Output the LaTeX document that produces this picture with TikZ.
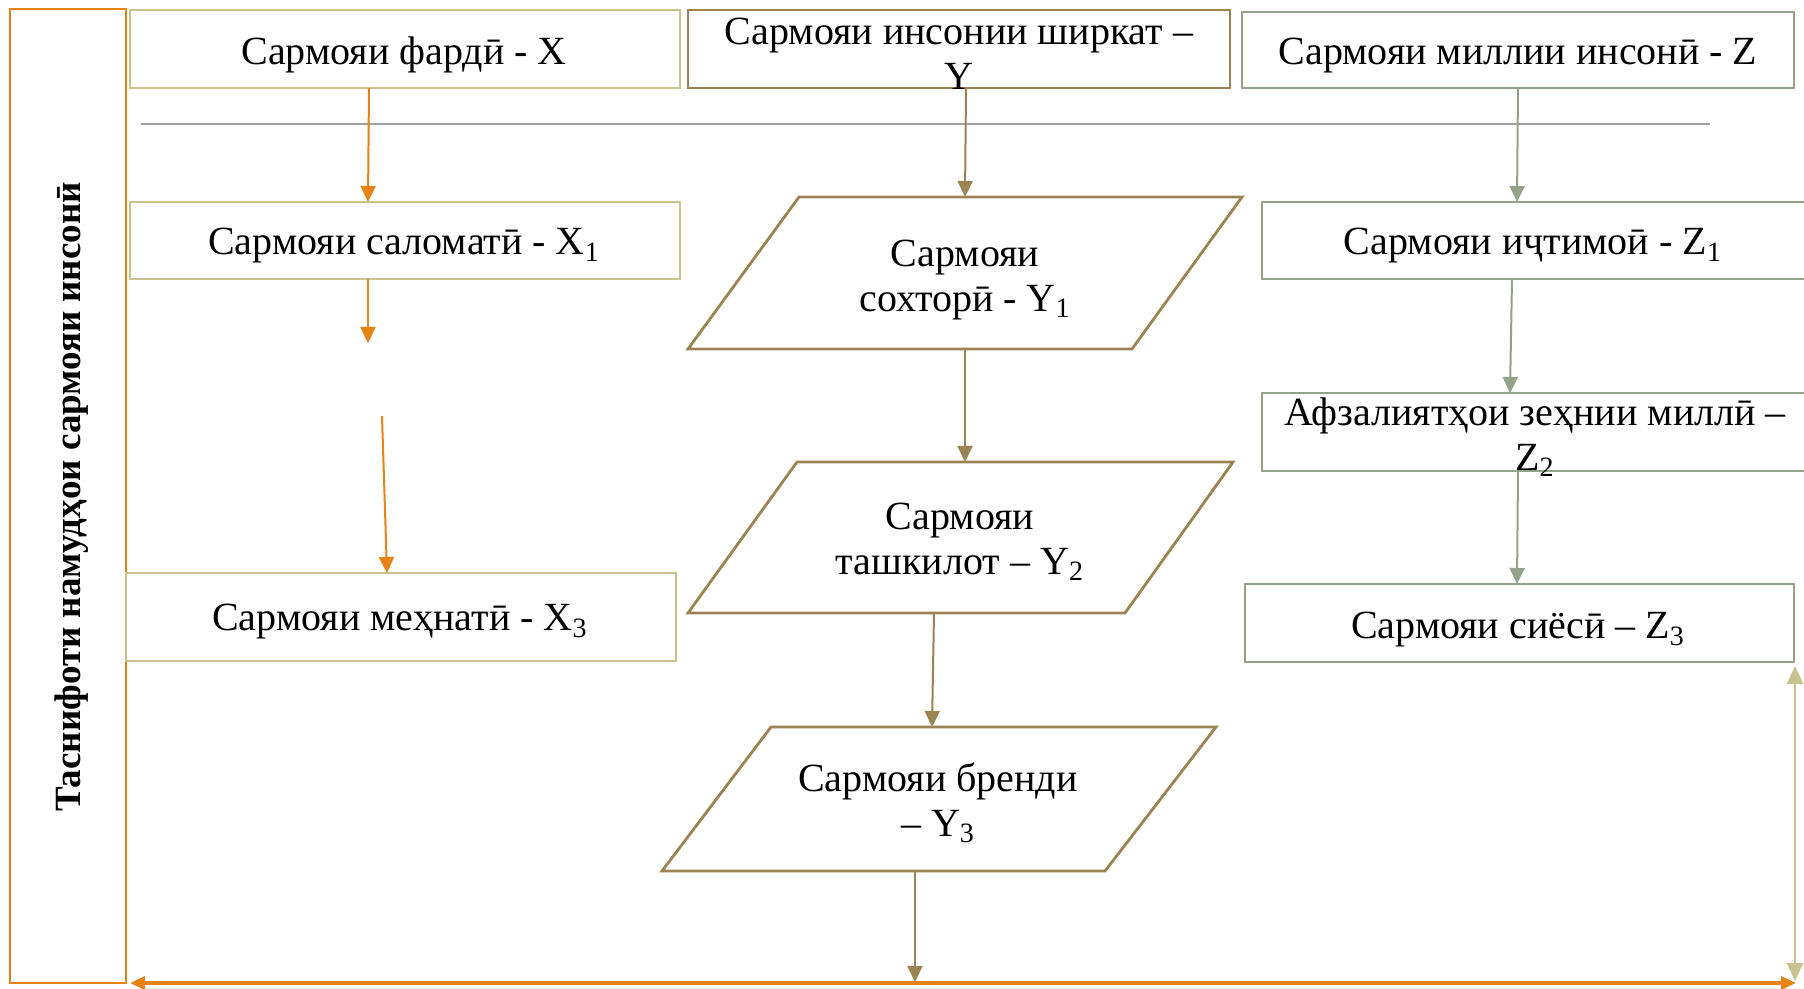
\documentclass[tikz,border=0pt]{standalone}
\usepackage{fontspec}
\setmainfont{Liberation Serif}
\usetikzlibrary{arrows.meta}
\definecolor{orng}{RGB}{230,130,22}
\definecolor{khaki}{RGB}{200,194,142}
\definecolor{brwn}{RGB}{156,131,84}
\definecolor{sage}{RGB}{149,162,138}
\definecolor{gline}{RGB}{160,160,160}
\begin{document}
\begin{tikzpicture}[x=0.5pt,y=-0.5pt,
  box/.style={draw, rectangle, inner sep=0pt, outer sep=0pt, line width=1.4pt},
  xbox/.style={box, draw=khaki},
  ybox/.style={draw=brwn, line width=1.4pt, line join=miter},
  zbox/.style={box, draw=sage},
  txt/.style={font=\fontsize{20}{22.5}\selectfont, align=center, inner sep=0pt},
  arr/.style={line width=1pt, -{Triangle[length=8pt,width=7.5pt]}},
  xarr/.style={arr, draw=orng, fill=orng},
  yarr/.style={arr, draw=brwn, fill=brwn},
  zarr/.style={arr, draw=sage, fill=sage}]
\useasboundingbox (0,0) rectangle (1804,989);
\fill[white] (0,0) rectangle (1804,989);

% left classification box
\node[box, draw=orng, line width=1.1pt, minimum width=58pt, minimum height=487pt] (L) at (68,496) {};
\node[rotate=90, inner sep=0pt, font=\bfseries\fontsize{18.5}{22}\selectfont] (Lt) at (72,497) {Таснифоти намудҳои сармояи инсонӣ};

% top row
\node[xbox, minimum width=275pt, minimum height=39pt] (X) at (405,49) {};
\node[txt] (Xt) at (404,55) {Сармояи фардӣ - X};
\node[box, draw=brwn, minimum width=271pt, minimum height=39pt] (Y) at (959,49) {};
\node[txt] (Yt) at (959,54) {Сармояи инсонии ширкат –\\Y};
\node[zbox, minimum width=276pt, minimum height=38pt] (Z) at (1518,50) {};
\node[txt] (Zt) at (1518,56) {Сармояи миллии инсонӣ - Z};

% separator line
\coordinate (s1) at (141,124);
\coordinate (s2) at (1710,124);
\draw[gline, line width=0.75pt] (s1) -- (s2);

% X column
\node[xbox, minimum width=275pt, minimum height=38.5pt] (X1) at (405,240.5) {};
\node[txt] (X1t) at (404,246) {Сармояи саломатӣ - X\textsubscript{1}};
\node[xbox, minimum width=275pt, minimum height=44pt] (X3) at (401,617) {};
\node[txt] (X3t) at (400,622) {Сармояи меҳнатӣ - X\textsubscript{3}};
\coordinate (c1) at (368,343);
\coordinate (c2) at (382,416);

% Y column (parallelograms)
\draw[ybox] (799,197) -- (1242,197) -- (1132,349) -- (688,349) -- cycle;
\node[txt] (Y1) at (965,280) {Сармояи\\сохторӣ - Y\textsubscript{1}};
\draw[ybox] (797,462) -- (1233,462) -- (1125,613) -- (688,613) -- cycle;
\node[txt] (Y2) at (960,542) {Сармояи\\ташкилот – Y\textsubscript{2}};
\draw[ybox] (771,727) -- (1216,727) -- (1105,871) -- (662,871) -- cycle;
\node[txt] (Y3) at (938,803) {Сармояи бренди\\– Y\textsubscript{3}};
\coordinate (Y1n) at (965,197);
\coordinate (Y1s) at (965,349);
\coordinate (Y2n) at (965,462);
\coordinate (Y2s) at (934,613);
\coordinate (Y3n) at (932,727);
\coordinate (Y3s) at (915,871);
\coordinate (bm) at (915,982);

% Z column
\node[zbox, minimum width=272pt, minimum height=38.5pt] (Z1) at (1534,240.5) {};
\node[txt] (Z1t) at (1533,246) {Сармояи иҷтимоӣ - Z\textsubscript{1}};
\node[zbox, minimum width=272pt, minimum height=39pt] (Z2) at (1534,432) {};
\node[txt] (Z2t) at (1535,437) {Афзалиятҳои зеҳнии миллӣ –\\Z\textsubscript{2}};
\node[zbox, minimum width=274.5pt, minimum height=39pt] (Z3) at (1519.5,623) {};
\node[txt] (Z3t) at (1518,630) {Сармояи сиёсӣ – Z\textsubscript{3}};

% arrows X
\draw[xarr] ([xshift=-18pt]X.south) -- ([xshift=-18.5pt]X1.north);
\draw[xarr] ([xshift=-18.5pt]X1.south) -- (c1);
\draw[xarr] (c2) -- ([xshift=-7pt]X3.north);
% arrows Y
\draw[yarr] ([xshift=3.5pt]Y.south) -- (Y1n);
\draw[yarr] (Y1s) -- (Y2n);
\draw[yarr] (Y2s) -- (Y3n);
\draw[yarr] (Y3s) -- (bm);
% arrows Z
\draw[zarr] (Z.south) -- ([xshift=-8.5pt]Z1.north);
\draw[zarr] ([xshift=-11pt]Z1.south) -- ([xshift=-12pt]Z2.north);
\draw[zarr] ([xshift=-8pt]Z2.south) -- ([xshift=-1.25pt]Z3.north);

% bottom and right double arrows
\coordinate (bl) at (130,983);
\coordinate (br) at (1796,983);
\draw[orng, line width=1.8pt, {Triangle[length=7.5pt,width=6.5pt]}-{Triangle[length=7.5pt,width=6.5pt]}] (bl) -- (br);
\coordinate (rt) at (1795,666);
\coordinate (rb) at (1795,981);
\draw[khaki, line width=1.3pt, {Triangle[length=9pt,width=8pt]}-{Triangle[length=9pt,width=8pt]}] (rb) -- (rt);
\end{tikzpicture}
\end{document}
